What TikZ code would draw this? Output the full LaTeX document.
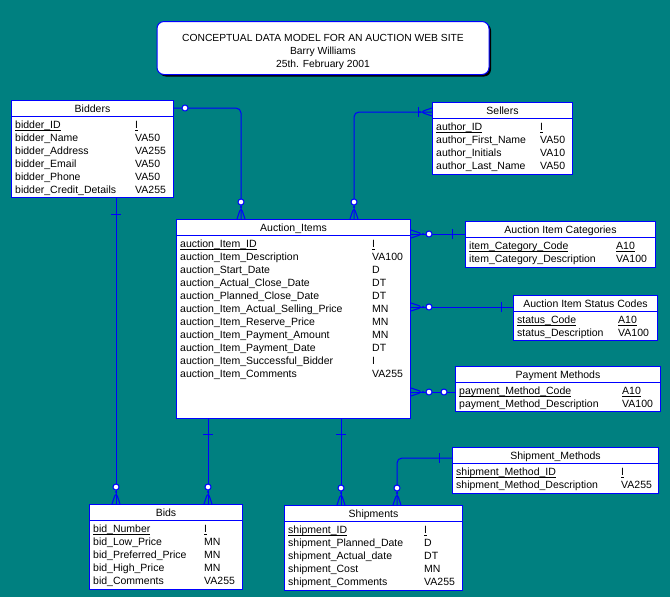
\documentclass[tikz,border=0pt]{standalone}
\usepackage{fontspec}
\setmainfont{Liberation Sans}
\usetikzlibrary{decorations.markings,shadows}
\definecolor{sea}{RGB}{0,128,128}
\definecolor{erblue}{RGB}{0,0,255}
% key attributes are underlined at the level of the underscore
\newcommand{\pkey}[1]{\setbox0\hbox{#1}\rlap{\rule[-2pt]{\wd0}{0.7pt}}\box0}

\tikzset{
  entity/.style={draw=erblue, fill=white, line width=1pt, inner sep=0pt, anchor=north west},
  head/.style={font=\fontsize{10.5}{12}\selectfont, inner sep=0pt, text height=7.5pt, text depth=2pt},
  attr/.style={font=\fontsize{10.5}{12}\selectfont, inner sep=0pt, anchor=west, text height=7.5pt, text depth=2pt},
  titlebox/.style={draw=erblue, fill=white, line width=1pt, rounded corners=7pt,
    minimum width=332pt, minimum height=53pt,
    drop shadow={shadow xshift=2pt, shadow yshift=-2pt, fill=black, opacity=1}},
  titletext/.style={align=center, inner sep=0pt, font=\fontsize{10.3}{13}\selectfont},
  rel/.style={draw=erblue, line width=1pt, rounded corners=5pt},
  ring at/.style={postaction={decorate, decoration={markings, mark=at position #1 with
    {\filldraw[draw=erblue, fill=white, line width=1pt] (0pt,0pt) circle (3pt);}}}},
  bar at/.style={postaction={decorate, decoration={markings, mark=at position #1 with
    {\draw[erblue, line width=1pt] (0pt,-5pt) -- (0pt,5pt);}}}},
  crow end/.style={postaction={decorate, decoration={markings, mark=at position -12pt with
    {\draw[erblue, line width=1pt] (12pt,4pt) -- (0pt,0pt) -- (12pt,-4pt); \fill[erblue] (0pt,0pt) circle (1.2pt);}}}},
  crow start/.style={postaction={decorate, decoration={markings, mark=at position 12pt with
    {\draw[erblue, line width=1pt] (-12pt,4pt) -- (0pt,0pt) -- (-12pt,-4pt); \fill[erblue] (0pt,0pt) circle (1.2pt);}}}}
}

\begin{document}
\begin{tikzpicture}[x=1pt, y=-1pt]
  % name, position, width, height, title, type column, rows (first one is the key)
  \def\entity#1#2#3#4#5#6#7{%
    \node[entity, minimum width=#3pt, minimum height=#4pt] (#1) at (#2) {};
    \draw[erblue, line width=1pt] ([shift={(0,16)}]#1.north west) -- ([shift={(0,16)}]#1.north east);
    \node[head] at ([shift={(0,10)}]#1.north) {#5};
    \foreach \n/\t [count=\i from 0] in {#7} {
      \ifnum\i=0
        \node[attr] at ([shift={(4,26)}]#1.north west) {\pkey{\n}};
        \node[attr] at ([shift={(#6,26)}]#1.north west) {\pkey{\t}};
      \else
        \node[attr] at ([shift={(4,{26+13*\i})}]#1.north west) {\n};
        \node[attr] at ([shift={(#6,{26+13*\i})}]#1.north west) {\t};
      \fi
    }}

  \fill[sea] (0,0) rectangle (670,597);
  \useasboundingbox (0,0) rectangle (670,597);

  \node[titlebox] (title) at (323,48) {};
  \node[titletext] at ([shift={(0,3.5)}]title.center) {CONCEPTUAL DATA MODEL FOR AN AUCTION WEB SITE\\Barry Williams\\25th. February 2001};

  \entity{bidders}{11,100}{162}{97}{Bidders}{124}{bidder\_ID/I, bidder\_Name/VA50, bidder\_Address/VA255,
    bidder\_Email/VA50, bidder\_Phone/VA50, bidder\_Credit\_Details/VA255}
  \entity{sellers}{432,102}{140}{72}{Sellers}{108}{author\_ID/I, author\_First\_Name/VA50,
    author\_Initials/VA10, author\_Last\_Name/VA50}
  \entity{items}{176,219}{234}{199}{Auction\_Items}{196}{auction\_Item\_ID/I,
    auction\_Item\_Description/VA100, auction\_Start\_Date/D, auction\_Actual\_Close\_Date/DT,
    auction\_Planned\_Close\_Date/DT, auction\_Item\_Actual\_Selling\_Price/MN,
    auction\_Item\_Reserve\_Price/MN, auction\_Item\_Payment\_Amount/MN,
    auction\_Item\_Payment\_Date/DT, auction\_Item\_Successful\_Bidder/I, auction\_Item\_Comments/VA255}
  \entity{categories}{465,221}{190}{46}{Auction Item Categories}{151}{item\_Category\_Code/A10,
    item\_Category\_Description/VA100}
  \entity{status}{513,295}{144}{45}{Auction Item Status Codes}{105}{status\_Code/A10,
    status\_Description/VA100}
  \entity{payment}{455,366}{205}{45}{Payment Methods}{167}{payment\_Method\_Code/A10,
    payment\_Method\_Description/VA100}
  \entity{shipmeth}{452,447}{206}{46}{Shipment\_Methods}{169}{shipment\_Method\_ID/I,
    shipment\_Method\_Description/VA255}
  \entity{bids}{89,504}{153}{85}{Bids}{115}{bid\_Number/I, bid\_Low\_Price/MN,
    bid\_Preferred\_Price/MN, bid\_High\_Price/MN, bid\_Comments/VA255}
  \entity{shipments}{284,505}{178}{85}{Shipments}{140}{shipment\_ID/I, shipment\_Planned\_Date/D,
    shipment\_Actual\_date/DT, shipment\_Cost/MN, shipment\_Comments/VA255}

  % relationships
  \draw[rel, ring at=11pt, ring at=-17pt, crow end]
    ([shift={(0,8)}]bidders.north east) -| ([shift={(65,0)}]items.north west);
  \draw[rel, crow start, bar at=14pt, ring at=-17pt, crow end]
    ([shift={(0,10)}]sellers.north west) -| ([shift={(178,0)}]items.north west);

  \coordinate (cat) at ([shift={(0,15)}]items.north east);
  \draw[rel, crow start, ring at=18pt, bar at=-13pt] (cat) -- (cat -| categories.west);
  \coordinate (sta) at ([shift={(0,88)}]items.north east);
  \draw[rel, crow start, ring at=18pt, bar at=-12pt] (sta) -- (sta -| status.west);
  \coordinate (pay) at ([shift={(0,173)}]items.north east);
  \draw[rel, crow start, ring at=18pt, ring at=-11pt] (pay) -- (pay -| payment.west);

  \draw[rel, bar at=13pt, ring at=-17pt, crow end]
    ([shift={(0,11)}]shipmeth.north west) -| ([shift={(113,0)}]shipments.north west);

  \coordinate (bb) at ([shift={(105,0)}]bidders.south west);
  \draw[rel, bar at=16pt, ring at=-17pt, crow end] (bb) -- (bb |- bids.north);
  \coordinate (ib) at ([shift={(32,0)}]items.south west);
  \draw[rel, bar at=15pt, ring at=-17pt, crow end] (ib) -- (ib |- bids.north);
  \coordinate (is) at ([shift={(165,0)}]items.south west);
  \draw[rel, bar at=15pt, ring at=-17pt, crow end] (is) -- (is |- shipments.north);
\end{tikzpicture}
\end{document}
